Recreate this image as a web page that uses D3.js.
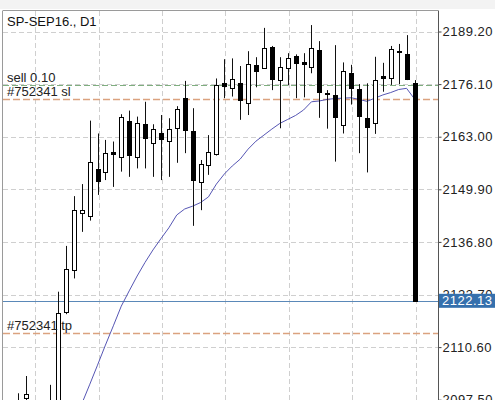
<!DOCTYPE html>
<html><head><meta charset="utf-8">
<script src="https://cdn.jsdelivr.net/npm/d3@7"></script>
<style>html,body{margin:0;padding:0;background:#fff;overflow:hidden}svg{display:block}</style>
</head><body>
<script>
// ---- data (left to right, daily bars) ----
const opens  = [2095.0,2097.8,2094.0,2093.0,2094.5,2095.5,2119.3,2129.8,2143.9,2143.3,2155.0,2154.3,2159.3,2158.0,2167.0,2157.9,2166.2,2161.4,2163.8,2161.9,2165.1,2172.6,2164.3,2151.7,2155.9,2158.6,2176.3,2175.1,2176.3,2171.3,2180.9,2180.2,2185.4,2177.2,2180.2,2183.0,2181.5,2180.4,2184.7,2173.9,2173.4,2165.9,2178.8,2174.9,2167.7,2166.4,2178.1,2177.5,2184.3,2183.5,2176.25];
const highs  = [2099.1,2103.4,2096.5,2096.0,2101.2,2124.4,2135.8,2148.2,2151.2,2167.0,2163.8,2162.2,2161.8,2168.6,2169.5,2168.0,2171.7,2166.1,2168.4,2167.6,2170.6,2176.9,2170.1,2157.2,2163.4,2177.5,2182.3,2182.5,2180.6,2184.3,2182.8,2190.1,2185.6,2182.8,2183.8,2183.5,2183.8,2190.8,2186.8,2174.6,2185.8,2181.5,2180.9,2176.1,2176.3,2182.9,2181.4,2185.6,2186.1,2188.3,2177.1];
const lows   = [2090.0,2095.5,2091.0,2090.5,2092.0,2094.0,2118.8,2127.7,2139.3,2142.1,2148.5,2152.2,2150.5,2154.3,2153.0,2155.1,2155.1,2153.0,2152.2,2153.0,2156.5,2158.9,2140.8,2144.7,2153.5,2158.3,2172.6,2173.0,2167.2,2168.4,2175.3,2180.0,2174.6,2165.1,2175.8,2172.6,2172.8,2178.8,2167.7,2165.0,2156.8,2163.8,2171.0,2158.9,2154.1,2163.7,2174.2,2175.9,2176.1,2177.1,2122.13];
const closes = [2092.0,2098.8,2095.0,2094.5,2096.8,2119.0,2130.0,2144.7,2144.7,2156.8,2151.9,2158.9,2158.6,2168.0,2158.4,2166.5,2162.7,2165.0,2162.4,2165.0,2169.8,2164.7,2152.2,2156.3,2159.2,2175.9,2175.6,2177.3,2172.1,2181.1,2179.4,2185.2,2177.4,2180.4,2182.5,2181.3,2181.2,2185.2,2174.2,2173.6,2168.0,2179.4,2175.1,2168.2,2165.5,2177.1,2177.7,2184.9,2184.0,2177.4,2122.13];
// moving average, bars 7..50
const maStart = 7;
const maValues = [2091.4,2096.4,2101.2,2106.1,2111.1,2115.9,2120.8,2124.6,2128.3,2131.7,2134.8,2137.6,2140.3,2143.5,2145.0,2145.7,2146.6,2148.0,2151.2,2153.7,2155.7,2157.4,2159.9,2161.9,2163.4,2164.9,2166.3,2167.3,2168.3,2169.65,2171.7,2171.9,2172.3,2172.5,2172.6,2172.7,2172.3,2171.8,2172.6,2173.4,2174.0,2174.75,2175.05,2172.4];
const yTicks = [2189.20,2176.10,2163.00,2149.90,2136.80,2123.70,2110.60,2097.50];
const gridBars = [2,10,18,26,34,42,50];
const title = "SP-SEP16., D1";
const sellPrice = 2176.0, slPrice = 2172.5, tpPrice = 2114.2, bidPrice = 2122.13;
const sellLabel = "sell 0.10", slLabel = "#752341 sl", tpLabel = "#752341 tp";

// ---- layout ----
const W = 495, H = 400;
const L = 3, R = 438, T = 11, B = 420;
const svg = d3.select("body").append("svg").attr("width", W).attr("height", H)
  .style("font-family", "'Liberation Sans', Arial, sans-serif");

const n = closes.length;
const x = d3.scaleLinear().domain([0, n - 1]).range([18.25, 414.5]);
const y = d3.scaleLinear().domain([2097.5, 2189.2]).range([399.7, 31.5]);
const px = v => Math.round(v) + 0.5;

svg.append("rect").attr("x", 0).attr("y", 0).attr("width", W).attr("height", 9).attr("fill", "#f3f3f3");

svg.append("defs").append("clipPath").attr("id", "plot")
  .append("rect").attr("x", L).attr("y", T).attr("width", R - L).attr("height", B - T);
const g = svg.append("g").attr("clip-path", "url(#plot)");

// grid
g.selectAll(".hg").data(yTicks).join("line")
  .attr("x1", L).attr("x2", R).attr("y1", d => px(y(d))).attr("y2", d => px(y(d)))
  .attr("stroke", "#cfcfcf").attr("stroke-dasharray", "5,3");
g.selectAll(".vg").data(gridBars).join("line")
  .attr("x1", d => px(x(d)) + 1).attr("x2", d => px(x(d)) + 1).attr("y1", T).attr("y2", B)
  .attr("stroke", "#cfcfcf").attr("stroke-dasharray", "5,3");

// order levels
const level = (p, col, dash, w) => g.append("line").attr("x1", L).attr("x2", R)
  .attr("y1", px(y(p))).attr("y2", px(y(p))).attr("stroke", col).attr("stroke-width", w).attr("stroke-dasharray", dash);
level(sellPrice, "#7fae7f", "6,3", 1);
level(slPrice, "#dba27f", "7,3", 1.3);
level(tpPrice, "#dba27f", "7,3", 1.3);
level(bidPrice, "#5a88b8", null, 1);

// moving average
const ma = maValues.map((v, i) => [maStart + i, v]);
g.append("path").datum(ma)
  .attr("d", d3.line().x(d => x(d[0])).y(d => y(d[1])))
  .attr("fill", "none").attr("stroke", "#5656b4").attr("stroke-width", 1);

// candles
const idx = d3.range(n);
g.selectAll(".wick").data(idx).join("line")
  .attr("x1", i => px(x(i))).attr("x2", i => px(x(i)))
  .attr("y1", i => y(highs[i])).attr("y2", i => y(lows[i]))
  .attr("stroke", "#111").attr("stroke-width", 1);
g.selectAll(".body").data(idx).join("rect")
  .attr("x", i => px(x(i)) - 2).attr("width", 4)
  .attr("y", i => Math.round(y(Math.max(opens[i], closes[i]))) + 0.5)
  .attr("height", i => Math.max(1, Math.round(y(Math.min(opens[i], closes[i]))) - Math.round(y(Math.max(opens[i], closes[i])))))
  .attr("fill", i => closes[i] >= opens[i] ? "#fff" : "#000")
  .attr("stroke", "#000").attr("stroke-width", 1);

// level labels
const lab = (t, p) => svg.append("text").attr("x", 7).attr("y", y(p) - 3)
  .attr("font-size", 13).attr("fill", "#222").text(t);
lab(sellLabel, sellPrice);
lab(slLabel, slPrice);
lab(tpLabel, tpPrice);

svg.append("text").attr("x", 7).attr("y", 26).attr("font-size", 13).attr("fill", "#111").text(title);

// frame
svg.append("line").attr("x1", L).attr("x2", R).attr("y1", 10.5).attr("y2", 10.5).attr("stroke", "#9a9a9a");
svg.append("line").attr("x1", 2.5).attr("x2", 2.5).attr("y1", 10.5).attr("y2", H).attr("stroke", "#9a9a9a");

// right axis
const axis = d3.axisRight(y).tickValues(yTicks).tickSize(3).tickPadding(1).tickFormat(d3.format(".2f"));
const ag = svg.append("g").attr("transform", `translate(${R + 0.5},0)`).call(axis);
ag.select(".domain").remove();
ag.selectAll(".tick line").attr("stroke", "#444");
ag.selectAll(".tick text").attr("font-size", 13).attr("fill", "#222")
  .attr("font-family", "'Liberation Sans', Arial, sans-serif").style("letter-spacing", "0.5px");
svg.append("line").attr("x1", R + 0.5).attr("x2", R + 0.5).attr("y1", 10.5).attr("y2", H).attr("stroke", "#555");

// bid label
const by = y(bidPrice);
svg.append("rect").attr("x", R + 1).attr("y", by - 7).attr("width", W - R - 1).attr("height", 14).attr("fill", "#3570ad");
svg.append("text").attr("x", R + 4).attr("y", by).attr("dy", "0.36em").attr("font-size", 13)
  .attr("fill", "#fff").style("letter-spacing", "0.5px").text(d3.format(".2f")(bidPrice));
</script>
</body></html>
